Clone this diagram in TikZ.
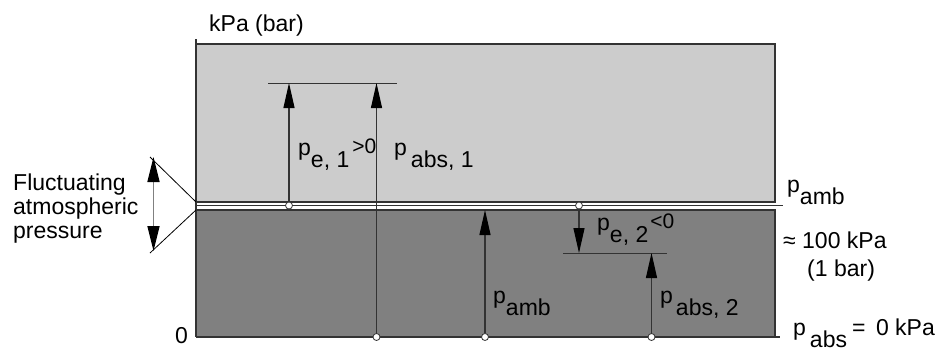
\documentclass[tikz,border=0pt]{standalone}
\usepackage{fontspec}
\setmainfont{Liberation Sans}
\usetikzlibrary{arrows.meta}
\definecolor{lightg}{HTML}{CCCCCC}
\definecolor{darkg}{HTML}{808080}
\definecolor{ink}{HTML}{333333}
\newcommand\dn[1]{\raisebox{-12pt}{#1}}
\newcommand\upsc[1]{\raisebox{2pt}{\fontsize{21}{24}\selectfont #1}}
\begin{document}
\begin{tikzpicture}[x=1pt,y=-1pt,
  every node/.style={inner sep=0pt, font=\fontsize{23}{27}\selectfont},
  border/.style={draw=ink, line width=1.4pt},
  thin/.style={draw=ink, line width=1pt},
  shaft/.style={draw=ink, line width=1.1pt},
  tip/.style={-{Triangle[length=25pt,width=11pt,color=black]}},
  dot/.style={circle, draw=ink, fill=white, line width=0.8pt, minimum size=7pt, inner sep=0pt},
  lbl/.style={anchor=base west},
  ]
\useasboundingbox (0,0) rectangle (943,351);
% areas
\fill[lightg] (196,44) rectangle (775,202);
\fill[darkg] (196,210) rectangle (775,337);
% coordinates
\coordinate (axtop) at (196,39);
\coordinate (axbot) at (196,337);
\coordinate (ultl) at (196,44);
\coordinate (ultr) at (775,44);
\coordinate (ulbr) at (775,202);
\coordinate (ulbl) at (196,202);
\coordinate (lltl) at (196,210);
\coordinate (lltr) at (775,210);
\coordinate (llbr) at (775,337);
\coordinate (midl) at (196,205.5);
\coordinate (midr) at (783,205.5);
\coordinate (botr) at (780,337);
% borders
\draw[border] (ulbl) -- (ulbr) -- (ultr) -- (ultl);
\draw[border] (lltl) -- (lltr) -- (llbr);
\draw[thin] (midl) -- (midr);
\draw[border] (axbot) -- (botr);
\draw[border] (axtop) -- (axbot);
% horizontal reference lines
\coordinate (h1l) at (268,83);
\coordinate (h1r) at (397,83);
\coordinate (h2l) at (563,253);
\coordinate (h2r) at (667,253);
\draw[thin] (h1l) -- (h1r);
\draw[thin] (h2l) -- (h2r);
% dots
\node[dot] (d1) at (289,205.5) {};
\node[dot] (d2) at (579,205.5) {};
\node[dot] (b1) at (376.5,337) {};
\node[dot] (b2) at (485,337) {};
\node[dot] (b3) at (651.5,337) {};
% arrow end points
\coordinate (e1t) at (289,83);
\coordinate (a1t) at (376.5,83);
\coordinate (amt) at (485,210);
\coordinate (e2b) at (579,253);
\coordinate (a2t) at (651.5,253);
\draw[shaft,tip] (d1) -- (e1t);
\draw[shaft,tip] (b1) -- (a1t);
\draw[shaft,tip] (b2) -- (amt);
\draw[shaft,tip] (d2) -- (e2b);
\draw[shaft,tip] (b3) -- (a2t);
% fluctuating arrow
\coordinate (fu) at (153.5,157);
\coordinate (fd) at (153.5,251);
\coordinate (cu) at (150,157);
\coordinate (cd) at (150,253);
\draw[draw=darkg, line width=1.6pt, {Triangle[length=25pt,width=12pt,color=black]}-{Triangle[length=25pt,width=12pt,color=black]}] (fu) -- (fd);
\draw[draw=black, line width=0.8pt] (cu) -- (ulbl);
\draw[draw=black, line width=0.8pt] (cd) -- (lltl);
% labels
\node[lbl] (kpa) at (209,31) {kPa (bar)};
\node[lbl] (fl1) at (13,190) {Fluctuating};
\node[lbl] (fl2) at (13,214) {atmospheric};
\node[lbl] (fl3) at (13,238) {pressure};
\node[lbl] (zero) at (175,343) {0};
\node[lbl] (le1) at (298,155) {p\dn{e, 1}\hspace{3pt}\upsc{>0}};
\node[lbl] (la1) at (394,155) {p\hspace{4pt}\dn{abs, 1}};
\node[lbl] (le2) at (597,230) {p\dn{e, 2}\hspace{2pt}\upsc{<0}};
\node[lbl] (lam) at (493,303) {p\dn{amb}};
\node[lbl] (la2) at (660,303) {p\hspace{3pt}\dn{abs, 2}};
\node[lbl] (lamr) at (787,192) {p\dn{amb}};
\node[lbl] (l100) at (783,248) {≈ 100 kPa};
\node[lbl] (lbar) at (807,276) {(1 bar)};
\node[lbl] (labs) at (793,335) {p\hspace{4pt}\dn{abs}};
\node[lbl] (l0k) at (852,335) {=\hspace{4pt} 0 kPa};
\end{tikzpicture}
\end{document}
